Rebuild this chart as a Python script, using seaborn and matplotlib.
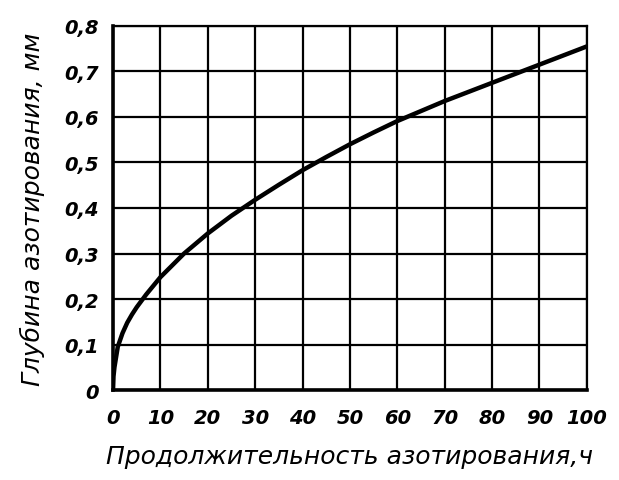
import matplotlib
matplotlib.use("Agg")
import matplotlib.pyplot as plt
import seaborn as sns
import pandas as pd

# время азотирования, ч и глубина слоя, мм
hours = [0, 0.1, 0.3, 1, 2, 3, 4, 5, 7, 10, 15, 20, 25, 30, 35, 40, 45, 50,
         55, 60, 70, 80, 90, 100]
depth = [0, 0.03, 0.05, 0.095, 0.125, 0.148, 0.166, 0.182, 0.21, 0.248, 0.30,
         0.344, 0.383, 0.418, 0.451, 0.483, 0.512, 0.540, 0.566, 0.591, 0.635,
         0.675, 0.715, 0.755]

xticks = list(range(0, 101, 10))
yticks = [0, 0.1, 0.2, 0.3, 0.4, 0.5, 0.6, 0.7, 0.8]
ylabels = ["0", "0,1", "0,2", "0,3", "0,4", "0,5", "0,6", "0,7", "0,8"]

df = pd.DataFrame({"t": hours, "h": depth})

sns.set_style("white")
plt.rcParams["font.family"] = ["DejaVu Sans"]

fig = plt.figure(figsize=(6.19, 4.81), dpi=100)
ax = fig.add_axes([0.1826, 0.187, 0.7654, 0.757])

sns.lineplot(data=df, x="t", y="h", color="black", linewidth=3.2, ax=ax)

ax.set_xlim(0, 100)
ax.set_ylim(0, 0.8)
ax.set_xticks(xticks)
ax.set_yticks(yticks)
ax.set_xticklabels([str(v) for v in xticks], fontsize=14, style="italic",
                   weight="bold", color="black")
ax.set_yticklabels(ylabels, fontsize=14, style="italic", weight="bold", color="black")
ax.tick_params(axis="both", length=0)
ax.tick_params(axis="y", pad=10)
ax.tick_params(axis="x", pad=13)
ax.grid(True, color="black", linewidth=1.6)

for side in ["top", "right"]:
    ax.spines[side].set_color("black")
    ax.spines[side].set_linewidth(1.6)
for side in ["left", "bottom"]:
    ax.spines[side].set_color("black")
    ax.spines[side].set_linewidth(2.6)

ax.set_xlabel("Продолжительность азотирования,ч", fontsize=18, style="italic",
              color="black", labelpad=12)
ax.set_ylabel("Глубина азотирования, мм", fontsize=18, style="italic",
              color="black", labelpad=14)

fig.savefig("out.png", dpi=100)
